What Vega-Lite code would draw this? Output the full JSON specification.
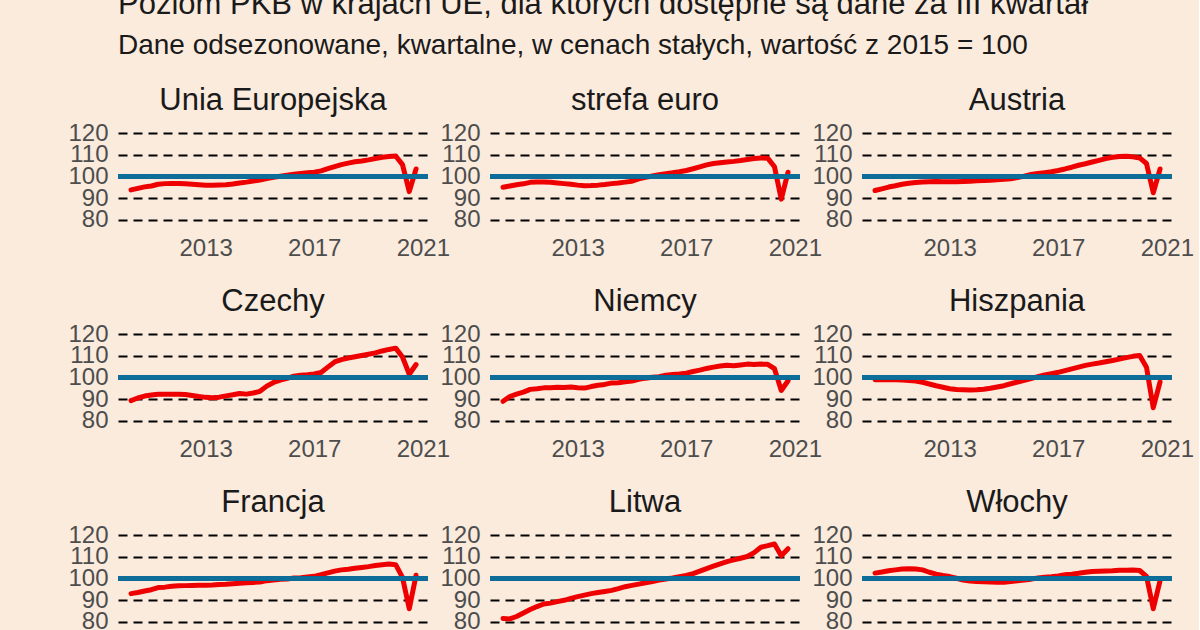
{
"$schema": "https://vega.github.io/schema/vega-lite/v6.json",
"padding": {"left": 67, "top": -11, "right": 5, "bottom": 20},
"background": "#FAEBDD",
"title": {"text": "Poziom PKB w krajach UE, dla których dostępne są dane za III kwartał", "subtitle": "Dane odsezonowane, kwartalne, w cenach stałych, wartość z 2015 = 100", "anchor": "start", "frame": "group", "fontSize": 31, "subtitleFontSize": 28, "font": "Liberation Sans", "subtitleFont": "Liberation Sans", "fontWeight": "normal", "color": "#1a1a1a", "subtitleColor": "#1a1a1a", "subtitlePadding": 11, "offset": 24},
"config": {
  "view": {"stroke": null},
  "axis": {"labelFont": "Liberation Sans", "labelFontSize": 24, "labelColor": "#4d4d4d", "ticks": false, "domain": false, "labelOverlap": false, "labelBound": false, "labelFlush": false, "title": null},
  "header": {"labelFont": "Liberation Sans", "labelFontSize": 31, "labelColor": "#1a1a1a", "title": null}
},
"data": {"values": [
{"k":"Unia Europejska","t":2010.25,"v":93.8},{"k":"Unia Europejska","t":2010.5,"v":94.5},{"k":"Unia Europejska","t":2010.75,"v":95.2},{"k":"Unia Europejska","t":2011,"v":95.6},
{"k":"Unia Europejska","t":2011.25,"v":96.4},{"k":"Unia Europejska","t":2011.5,"v":96.7},{"k":"Unia Europejska","t":2011.75,"v":96.8},{"k":"Unia Europejska","t":2012,"v":96.8},
{"k":"Unia Europejska","t":2012.25,"v":96.6},{"k":"Unia Europejska","t":2012.5,"v":96.4},{"k":"Unia Europejska","t":2012.75,"v":96.2},{"k":"Unia Europejska","t":2013,"v":96.0},
{"k":"Unia Europejska","t":2013.25,"v":96.0},{"k":"Unia Europejska","t":2013.5,"v":96.1},{"k":"Unia Europejska","t":2013.75,"v":96.2},{"k":"Unia Europejska","t":2014,"v":96.5},
{"k":"Unia Europejska","t":2014.25,"v":97.0},{"k":"Unia Europejska","t":2014.5,"v":97.4},{"k":"Unia Europejska","t":2014.75,"v":97.9},{"k":"Unia Europejska","t":2015,"v":98.4},
{"k":"Unia Europejska","t":2015.25,"v":99.0},{"k":"Unia Europejska","t":2015.5,"v":99.6},{"k":"Unia Europejska","t":2015.75,"v":100.1},{"k":"Unia Europejska","t":2016,"v":100.6},
{"k":"Unia Europejska","t":2016.25,"v":101.0},{"k":"Unia Europejska","t":2016.5,"v":101.4},{"k":"Unia Europejska","t":2016.75,"v":101.7},{"k":"Unia Europejska","t":2017,"v":102.0},
{"k":"Unia Europejska","t":2017.25,"v":102.6},{"k":"Unia Europejska","t":2017.5,"v":103.6},{"k":"Unia Europejska","t":2017.75,"v":104.6},{"k":"Unia Europejska","t":2018,"v":105.5},
{"k":"Unia Europejska","t":2018.25,"v":106.2},{"k":"Unia Europejska","t":2018.5,"v":106.8},{"k":"Unia Europejska","t":2018.75,"v":107.2},{"k":"Unia Europejska","t":2019,"v":107.7},
{"k":"Unia Europejska","t":2019.25,"v":108.3},{"k":"Unia Europejska","t":2019.5,"v":108.9},{"k":"Unia Europejska","t":2019.75,"v":109.3},{"k":"Unia Europejska","t":2020,"v":109.5},
{"k":"Unia Europejska","t":2020.25,"v":105.5},{"k":"Unia Europejska","t":2020.5,"v":93.0},{"k":"Unia Europejska","t":2020.75,"v":103.5},

{"k":"strefa euro","t":2010.25,"v":95.0},{"k":"strefa euro","t":2010.5,"v":95.6},{"k":"strefa euro","t":2010.75,"v":96.2},{"k":"strefa euro","t":2011,"v":96.6},
{"k":"strefa euro","t":2011.25,"v":97.3},{"k":"strefa euro","t":2011.5,"v":97.5},{"k":"strefa euro","t":2011.75,"v":97.5},{"k":"strefa euro","t":2012,"v":97.3},
{"k":"strefa euro","t":2012.25,"v":97.0},{"k":"strefa euro","t":2012.5,"v":96.7},{"k":"strefa euro","t":2012.75,"v":96.4},{"k":"strefa euro","t":2013,"v":96.0},
{"k":"strefa euro","t":2013.25,"v":95.7},{"k":"strefa euro","t":2013.5,"v":95.8},{"k":"strefa euro","t":2013.75,"v":96.0},{"k":"strefa euro","t":2014,"v":96.3},
{"k":"strefa euro","t":2014.25,"v":96.7},{"k":"strefa euro","t":2014.5,"v":97.0},{"k":"strefa euro","t":2014.75,"v":97.4},{"k":"strefa euro","t":2015,"v":97.8},
{"k":"strefa euro","t":2015.25,"v":98.9},{"k":"strefa euro","t":2015.5,"v":99.6},{"k":"strefa euro","t":2015.75,"v":100.2},{"k":"strefa euro","t":2016,"v":100.8},
{"k":"strefa euro","t":2016.25,"v":101.3},{"k":"strefa euro","t":2016.5,"v":101.7},{"k":"strefa euro","t":2016.75,"v":102.2},{"k":"strefa euro","t":2017,"v":102.8},
{"k":"strefa euro","t":2017.25,"v":103.6},{"k":"strefa euro","t":2017.5,"v":104.5},{"k":"strefa euro","t":2017.75,"v":105.4},{"k":"strefa euro","t":2018,"v":106.0},
{"k":"strefa euro","t":2018.25,"v":106.4},{"k":"strefa euro","t":2018.5,"v":106.7},{"k":"strefa euro","t":2018.75,"v":107.0},{"k":"strefa euro","t":2019,"v":107.4},
{"k":"strefa euro","t":2019.25,"v":107.9},{"k":"strefa euro","t":2019.5,"v":108.3},{"k":"strefa euro","t":2019.75,"v":108.6},{"k":"strefa euro","t":2020,"v":108.5},
{"k":"strefa euro","t":2020.25,"v":104.5},{"k":"strefa euro","t":2020.5,"v":89.5},{"k":"strefa euro","t":2020.75,"v":102.0},

{"k":"Austria","t":2010.25,"v":93.5},{"k":"Austria","t":2010.5,"v":94.3},{"k":"Austria","t":2010.75,"v":95.1},{"k":"Austria","t":2011,"v":95.7},
{"k":"Austria","t":2011.25,"v":96.4},{"k":"Austria","t":2011.5,"v":96.9},{"k":"Austria","t":2011.75,"v":97.2},{"k":"Austria","t":2012,"v":97.4},
{"k":"Austria","t":2012.25,"v":97.6},{"k":"Austria","t":2012.5,"v":97.7},{"k":"Austria","t":2012.75,"v":97.6},{"k":"Austria","t":2013,"v":97.6},
{"k":"Austria","t":2013.25,"v":97.6},{"k":"Austria","t":2013.5,"v":97.7},{"k":"Austria","t":2013.75,"v":97.8},{"k":"Austria","t":2014,"v":98.0},
{"k":"Austria","t":2014.25,"v":98.1},{"k":"Austria","t":2014.5,"v":98.3},{"k":"Austria","t":2014.75,"v":98.5},{"k":"Austria","t":2015,"v":98.7},
{"k":"Austria","t":2015.25,"v":99.0},{"k":"Austria","t":2015.5,"v":99.5},{"k":"Austria","t":2015.75,"v":100.2},{"k":"Austria","t":2016,"v":100.9},
{"k":"Austria","t":2016.25,"v":101.4},{"k":"Austria","t":2016.5,"v":101.8},{"k":"Austria","t":2016.75,"v":102.2},{"k":"Austria","t":2017,"v":102.8},
{"k":"Austria","t":2017.25,"v":103.5},{"k":"Austria","t":2017.5,"v":104.3},{"k":"Austria","t":2017.75,"v":105.2},{"k":"Austria","t":2018,"v":105.9},
{"k":"Austria","t":2018.25,"v":106.7},{"k":"Austria","t":2018.5,"v":107.5},{"k":"Austria","t":2018.75,"v":108.3},{"k":"Austria","t":2019,"v":108.9},
{"k":"Austria","t":2019.25,"v":109.3},{"k":"Austria","t":2019.5,"v":109.4},{"k":"Austria","t":2019.75,"v":109.1},{"k":"Austria","t":2020,"v":108.6},
{"k":"Austria","t":2020.25,"v":106.0},{"k":"Austria","t":2020.5,"v":92.5},{"k":"Austria","t":2020.75,"v":103.5},

{"k":"Czechy","t":2010.25,"v":89.3},{"k":"Czechy","t":2010.5,"v":90.5},{"k":"Czechy","t":2010.75,"v":91.4},{"k":"Czechy","t":2011,"v":91.9},
{"k":"Czechy","t":2011.25,"v":92.2},{"k":"Czechy","t":2011.5,"v":92.3},{"k":"Czechy","t":2011.75,"v":92.3},{"k":"Czechy","t":2012,"v":92.2},
{"k":"Czechy","t":2012.25,"v":92.1},{"k":"Czechy","t":2012.5,"v":91.7},{"k":"Czechy","t":2012.75,"v":91.2},{"k":"Czechy","t":2013,"v":90.8},
{"k":"Czechy","t":2013.25,"v":90.6},{"k":"Czechy","t":2013.5,"v":90.9},{"k":"Czechy","t":2013.75,"v":91.5},{"k":"Czechy","t":2014,"v":92.0},
{"k":"Czechy","t":2014.25,"v":92.6},{"k":"Czechy","t":2014.5,"v":92.3},{"k":"Czechy","t":2014.75,"v":92.8},{"k":"Czechy","t":2015,"v":93.6},
{"k":"Czechy","t":2015.25,"v":96.0},{"k":"Czechy","t":2015.5,"v":97.7},{"k":"Czechy","t":2015.75,"v":98.8},{"k":"Czechy","t":2016,"v":99.6},
{"k":"Czechy","t":2016.25,"v":100.6},{"k":"Czechy","t":2016.5,"v":101.1},{"k":"Czechy","t":2016.75,"v":101.3},{"k":"Czechy","t":2017,"v":101.6},
{"k":"Czechy","t":2017.25,"v":102.3},{"k":"Czechy","t":2017.5,"v":104.8},{"k":"Czechy","t":2017.75,"v":107.2},{"k":"Czechy","t":2018,"v":108.3},
{"k":"Czechy","t":2018.25,"v":109.0},{"k":"Czechy","t":2018.5,"v":109.6},{"k":"Czechy","t":2018.75,"v":110.2},{"k":"Czechy","t":2019,"v":110.8},
{"k":"Czechy","t":2019.25,"v":111.4},{"k":"Czechy","t":2019.5,"v":112.3},{"k":"Czechy","t":2019.75,"v":113.0},{"k":"Czechy","t":2020,"v":113.6},
{"k":"Czechy","t":2020.25,"v":109.5},{"k":"Czechy","t":2020.5,"v":101.5},{"k":"Czechy","t":2020.75,"v":106.0},

{"k":"Niemcy","t":2010.25,"v":89.0},{"k":"Niemcy","t":2010.5,"v":91.2},{"k":"Niemcy","t":2010.75,"v":92.3},{"k":"Niemcy","t":2011,"v":93.2},
{"k":"Niemcy","t":2011.25,"v":94.5},{"k":"Niemcy","t":2011.5,"v":94.8},{"k":"Niemcy","t":2011.75,"v":95.2},{"k":"Niemcy","t":2012,"v":95.3},
{"k":"Niemcy","t":2012.25,"v":95.5},{"k":"Niemcy","t":2012.5,"v":95.4},{"k":"Niemcy","t":2012.75,"v":95.6},{"k":"Niemcy","t":2013,"v":95.3},
{"k":"Niemcy","t":2013.25,"v":95.1},{"k":"Niemcy","t":2013.5,"v":95.8},{"k":"Niemcy","t":2013.75,"v":96.4},{"k":"Niemcy","t":2014,"v":96.8},
{"k":"Niemcy","t":2014.25,"v":97.5},{"k":"Niemcy","t":2014.5,"v":97.6},{"k":"Niemcy","t":2014.75,"v":98.0},{"k":"Niemcy","t":2015,"v":98.4},
{"k":"Niemcy","t":2015.25,"v":99.2},{"k":"Niemcy","t":2015.5,"v":99.7},{"k":"Niemcy","t":2015.75,"v":100.1},{"k":"Niemcy","t":2016,"v":100.4},
{"k":"Niemcy","t":2016.25,"v":101.1},{"k":"Niemcy","t":2016.5,"v":101.4},{"k":"Niemcy","t":2016.75,"v":101.6},{"k":"Niemcy","t":2017,"v":102.0},
{"k":"Niemcy","t":2017.25,"v":102.8},{"k":"Niemcy","t":2017.5,"v":103.4},{"k":"Niemcy","t":2017.75,"v":104.2},{"k":"Niemcy","t":2018,"v":104.8},
{"k":"Niemcy","t":2018.25,"v":105.3},{"k":"Niemcy","t":2018.5,"v":105.7},{"k":"Niemcy","t":2018.75,"v":105.4},{"k":"Niemcy","t":2019,"v":105.8},
{"k":"Niemcy","t":2019.25,"v":106.2},{"k":"Niemcy","t":2019.5,"v":106.0},{"k":"Niemcy","t":2019.75,"v":106.2},{"k":"Niemcy","t":2020,"v":106.1},
{"k":"Niemcy","t":2020.25,"v":104.1},{"k":"Niemcy","t":2020.5,"v":94.0},{"k":"Niemcy","t":2020.75,"v":98.5},

{"k":"Hiszpania","t":2010.25,"v":99.0},{"k":"Hiszpania","t":2010.5,"v":99.1},{"k":"Hiszpania","t":2010.75,"v":99.0},{"k":"Hiszpania","t":2011,"v":99.0},
{"k":"Hiszpania","t":2011.25,"v":98.8},{"k":"Hiszpania","t":2011.5,"v":98.6},{"k":"Hiszpania","t":2011.75,"v":98.4},{"k":"Hiszpania","t":2012,"v":97.8},
{"k":"Hiszpania","t":2012.25,"v":97.0},{"k":"Hiszpania","t":2012.5,"v":96.2},{"k":"Hiszpania","t":2012.75,"v":95.5},{"k":"Hiszpania","t":2013,"v":94.8},
{"k":"Hiszpania","t":2013.25,"v":94.4},{"k":"Hiszpania","t":2013.5,"v":94.3},{"k":"Hiszpania","t":2013.75,"v":94.2},{"k":"Hiszpania","t":2014,"v":94.3},
{"k":"Hiszpania","t":2014.25,"v":94.6},{"k":"Hiszpania","t":2014.5,"v":95.0},{"k":"Hiszpania","t":2014.75,"v":95.6},{"k":"Hiszpania","t":2015,"v":96.2},
{"k":"Hiszpania","t":2015.25,"v":97.1},{"k":"Hiszpania","t":2015.5,"v":97.9},{"k":"Hiszpania","t":2015.75,"v":98.7},{"k":"Hiszpania","t":2016,"v":99.5},
{"k":"Hiszpania","t":2016.25,"v":100.4},{"k":"Hiszpania","t":2016.5,"v":101.2},{"k":"Hiszpania","t":2016.75,"v":101.8},{"k":"Hiszpania","t":2017,"v":102.4},
{"k":"Hiszpania","t":2017.25,"v":103.2},{"k":"Hiszpania","t":2017.5,"v":104.0},{"k":"Hiszpania","t":2017.75,"v":104.8},{"k":"Hiszpania","t":2018,"v":105.6},
{"k":"Hiszpania","t":2018.25,"v":106.2},{"k":"Hiszpania","t":2018.5,"v":106.7},{"k":"Hiszpania","t":2018.75,"v":107.3},{"k":"Hiszpania","t":2019,"v":107.9},
{"k":"Hiszpania","t":2019.25,"v":108.5},{"k":"Hiszpania","t":2019.5,"v":109.2},{"k":"Hiszpania","t":2019.75,"v":109.8},{"k":"Hiszpania","t":2020,"v":110.2},
{"k":"Hiszpania","t":2020.25,"v":104.8},{"k":"Hiszpania","t":2020.5,"v":86.0},{"k":"Hiszpania","t":2020.75,"v":98.0},

{"k":"Francja","t":2010.25,"v":93.0},{"k":"Francja","t":2010.5,"v":93.5},{"k":"Francja","t":2010.75,"v":94.2},{"k":"Francja","t":2011,"v":94.8},
{"k":"Francja","t":2011.25,"v":95.8},{"k":"Francja","t":2011.5,"v":96.0},{"k":"Francja","t":2011.75,"v":96.4},{"k":"Francja","t":2012,"v":96.6},
{"k":"Francja","t":2012.25,"v":96.7},{"k":"Francja","t":2012.5,"v":96.8},{"k":"Francja","t":2012.75,"v":96.9},{"k":"Francja","t":2013,"v":96.9},
{"k":"Francja","t":2013.25,"v":97.0},{"k":"Francja","t":2013.5,"v":97.2},{"k":"Francja","t":2013.75,"v":97.3},{"k":"Francja","t":2014,"v":97.6},
{"k":"Francja","t":2014.25,"v":97.8},{"k":"Francja","t":2014.5,"v":98.0},{"k":"Francja","t":2014.75,"v":98.2},{"k":"Francja","t":2015,"v":98.4},
{"k":"Francja","t":2015.25,"v":99.0},{"k":"Francja","t":2015.5,"v":99.3},{"k":"Francja","t":2015.75,"v":99.6},{"k":"Francja","t":2016,"v":99.8},
{"k":"Francja","t":2016.25,"v":100.2},{"k":"Francja","t":2016.5,"v":100.4},{"k":"Francja","t":2016.75,"v":100.7},{"k":"Francja","t":2017,"v":101.0},
{"k":"Francja","t":2017.25,"v":101.8},{"k":"Francja","t":2017.5,"v":102.6},{"k":"Francja","t":2017.75,"v":103.4},{"k":"Francja","t":2018,"v":104.0},
{"k":"Francja","t":2018.25,"v":104.3},{"k":"Francja","t":2018.5,"v":104.7},{"k":"Francja","t":2018.75,"v":105.1},{"k":"Francja","t":2019,"v":105.5},
{"k":"Francja","t":2019.25,"v":106.0},{"k":"Francja","t":2019.5,"v":106.4},{"k":"Francja","t":2019.75,"v":106.7},{"k":"Francja","t":2020,"v":106.4},
{"k":"Francja","t":2020.25,"v":100.5},{"k":"Francja","t":2020.5,"v":86.0},{"k":"Francja","t":2020.75,"v":101.5},

{"k":"Litwa","t":2010.25,"v":81.5},{"k":"Litwa","t":2010.5,"v":81.3},{"k":"Litwa","t":2010.75,"v":82.4},{"k":"Litwa","t":2011,"v":84.0},
{"k":"Litwa","t":2011.25,"v":85.6},{"k":"Litwa","t":2011.5,"v":87.0},{"k":"Litwa","t":2011.75,"v":88.2},{"k":"Litwa","t":2012,"v":88.6},
{"k":"Litwa","t":2012.25,"v":89.3},{"k":"Litwa","t":2012.5,"v":89.9},{"k":"Litwa","t":2012.75,"v":90.8},{"k":"Litwa","t":2013,"v":91.6},
{"k":"Litwa","t":2013.25,"v":92.3},{"k":"Litwa","t":2013.5,"v":93.0},{"k":"Litwa","t":2013.75,"v":93.5},{"k":"Litwa","t":2014,"v":94.0},
{"k":"Litwa","t":2014.25,"v":94.5},{"k":"Litwa","t":2014.5,"v":95.3},{"k":"Litwa","t":2014.75,"v":96.2},{"k":"Litwa","t":2015,"v":96.8},
{"k":"Litwa","t":2015.25,"v":97.4},{"k":"Litwa","t":2015.5,"v":98.0},{"k":"Litwa","t":2015.75,"v":98.6},{"k":"Litwa","t":2016,"v":99.3},
{"k":"Litwa","t":2016.25,"v":99.8},{"k":"Litwa","t":2016.5,"v":100.2},{"k":"Litwa","t":2016.75,"v":100.8},{"k":"Litwa","t":2017,"v":101.4},
{"k":"Litwa","t":2017.25,"v":102.3},{"k":"Litwa","t":2017.5,"v":103.4},{"k":"Litwa","t":2017.75,"v":104.6},{"k":"Litwa","t":2018,"v":105.7},
{"k":"Litwa","t":2018.25,"v":106.8},{"k":"Litwa","t":2018.5,"v":107.8},{"k":"Litwa","t":2018.75,"v":108.6},{"k":"Litwa","t":2019,"v":109.4},
{"k":"Litwa","t":2019.25,"v":110.2},{"k":"Litwa","t":2019.5,"v":112.0},{"k":"Litwa","t":2019.75,"v":114.5},{"k":"Litwa","t":2020,"v":115.2},
{"k":"Litwa","t":2020.25,"v":116.0},{"k":"Litwa","t":2020.5,"v":110.5},{"k":"Litwa","t":2020.75,"v":113.8},

{"k":"Włochy","t":2010.25,"v":102.5},{"k":"Włochy","t":2010.5,"v":103.0},{"k":"Włochy","t":2010.75,"v":103.6},{"k":"Włochy","t":2011,"v":104.0},
{"k":"Włochy","t":2011.25,"v":104.4},{"k":"Włochy","t":2011.5,"v":104.5},{"k":"Włochy","t":2011.75,"v":104.4},{"k":"Włochy","t":2012,"v":104.0},
{"k":"Włochy","t":2012.25,"v":102.9},{"k":"Włochy","t":2012.5,"v":102.0},{"k":"Włochy","t":2012.75,"v":101.4},{"k":"Włochy","t":2013,"v":100.9},
{"k":"Włochy","t":2013.25,"v":100.1},{"k":"Włochy","t":2013.5,"v":99.3},{"k":"Włochy","t":2013.75,"v":98.8},{"k":"Włochy","t":2014,"v":98.6},
{"k":"Włochy","t":2014.25,"v":98.5},{"k":"Włochy","t":2014.5,"v":98.4},{"k":"Włochy","t":2014.75,"v":98.3},{"k":"Włochy","t":2015,"v":98.3},
{"k":"Włochy","t":2015.25,"v":98.6},{"k":"Włochy","t":2015.5,"v":99.0},{"k":"Włochy","t":2015.75,"v":99.3},{"k":"Włochy","t":2016,"v":99.7},
{"k":"Włochy","t":2016.25,"v":100.2},{"k":"Włochy","t":2016.5,"v":100.6},{"k":"Włochy","t":2016.75,"v":100.8},{"k":"Włochy","t":2017,"v":101.2},
{"k":"Włochy","t":2017.25,"v":101.7},{"k":"Włochy","t":2017.5,"v":102.0},{"k":"Włochy","t":2017.75,"v":102.4},{"k":"Włochy","t":2018,"v":102.9},
{"k":"Włochy","t":2018.25,"v":103.2},{"k":"Włochy","t":2018.5,"v":103.4},{"k":"Włochy","t":2018.75,"v":103.5},{"k":"Włochy","t":2019,"v":103.6},
{"k":"Włochy","t":2019.25,"v":103.8},{"k":"Włochy","t":2019.5,"v":103.8},{"k":"Włochy","t":2019.75,"v":103.9},{"k":"Włochy","t":2020,"v":103.7},
{"k":"Włochy","t":2020.25,"v":101.0},{"k":"Włochy","t":2020.5,"v":86.0},{"k":"Włochy","t":2020.75,"v":99.0}
]},
"facet": {"field": "k", "type": "nominal", "sort": ["Unia Europejska","strefa euro","Austria","Czechy","Niemcy","Hiszpania","Francja","Litwa","Włochy"], "header": {"title": null, "labelPadding": 4}},
"columns": 3,
"spacing": {"column": 62, "row": 106},
"bounds": "flush",
"resolve": {"axis": {"x": "independent", "y": "independent"}},
"spec": {
  "width": 310,
  "height": 95,
  "layer": [
    {"mark": {"type": "line", "color": "#EE0000", "strokeWidth": 5, "strokeJoin": "round", "strokeCap": "round"},
     "encoding": {
       "x": {"field": "t", "type": "quantitative", "scale": {"domain": [2009.77, 2021.19], "nice": false, "zero": false}, "axis": {"values": [2013, 2017, 2021], "tickCount": 10, "format": "d", "grid": false, "labelPadding": 12}},
       "y": {"field": "v", "type": "quantitative", "scale": {"domain": [78, 122], "nice": false, "zero": false}, "axis": {"values": [80, 90, 100, 110, 120], "tickCount": 10, "labelOverlap": false, "grid": true, "gridColor": "#000000", "gridDash": [9, 6], "gridWidth": 2.2, "labelPadding": 10}}
     }},
    {"mark": {"type": "rule", "color": "#0E6F9A", "strokeWidth": 3.5, "opacity": 0.85},
     "encoding": {"y": {"datum": 100}}}
  ]
}
}
